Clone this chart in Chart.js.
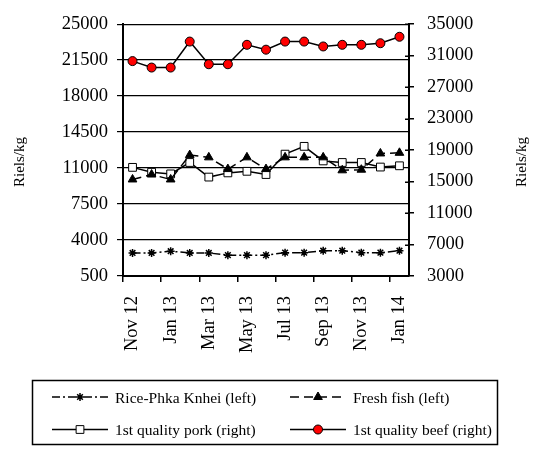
<!DOCTYPE html>
<html><head><meta charset="utf-8">
<script src="https://cdn.jsdelivr.net/npm/chart.js@4"></script>
<style>html,body{margin:0;padding:0;background:#fff}</style>
</head><body>
<canvas id="c" width="534" height="458" style="display:block"></canvas>
<script>
const months = ['Nov 12','Dec 12','Jan 13','Feb 13','Mar 13','Apr 13','May 13','Jun 13','Jul 13','Aug 13','Sep 13','Oct 13','Nov 13','Dec 13','Jan 14'];
const rice = [2740,2740,2910,2740,2740,2530,2530,2530,2770,2770,2960,2960,2770,2770,2960];
const fish = [9890,10370,9890,12260,12040,10900,12040,10900,12040,12040,12040,10780,10840,12420,12480];
const pork = [16800,16180,15970,17420,15565,16100,16300,15890,18480,19470,17620,17420,17420,16840,17000];
const beef = [30300,29480,29480,32780,29900,29900,32370,31750,32780,32780,32160,32370,32370,32570,33390];
const leftTicks = [500,4000,7500,11000,14500,18000,21500,25000];
const rightTicks = [3000,7000,11000,15000,19000,23000,27000,31000,35000];
const seriesNames = ['Rice-Phka Knhei (left)','Fresh fish (left)','1st quality pork (right)','1st quality beef (right)'];
const axisTitle = 'Riels/kg';

const FONT = '"Liberation Serif", "Times New Roman", serif';

const extras = {
  id: 'extras',
  afterDraw(chart) {
    const ctx = chart.ctx;
    ctx.save();
    ctx.fillStyle = '#000';
    ctx.font = '15px ' + FONT;
    ctx.textAlign = 'center';
    ctx.textBaseline = 'middle';
    [[20, 162], [522, 162]].forEach(([x, y]) => {
      ctx.save(); ctx.translate(x, y); ctx.rotate(-Math.PI / 2);
      ctx.fillText(axisTitle, 0, 0); ctx.restore();
    });
    // right axis ticks crossing inward
    const y1 = chart.scales.y1;
    ctx.strokeStyle = '#000';
    ctx.lineWidth = 1.5;
    y1.ticks.forEach(t => {
      const py = Math.round(y1.getPixelForValue(t.value)) + 0.25;
      ctx.beginPath(); ctx.moveTo(y1.left - 4, py); ctx.lineTo(y1.left, py); ctx.stroke();
    });
    // legend box
    ctx.lineWidth = 1.5;
    ctx.strokeRect(32.5, 380.5, 465, 64);
    const pos = [[52, 397], [290, 397], [52, 429.5], [290, 429.5]];
    chart.data.datasets.forEach((ds, i) => {
      const [x0, y] = pos[i];
      ctx.save();
      ctx.strokeStyle = '#000';
      ctx.lineWidth = ds.borderWidth;
      ctx.setLineDash(ds.borderDash || []);
      ctx.beginPath(); ctx.moveTo(x0, y); ctx.lineTo(x0 + 56, y); ctx.stroke();
      ctx.setLineDash([]);
      ctx.fillStyle = ds.pointBackgroundColor;
      ctx.strokeStyle = ds.pointBorderColor;
      ctx.lineWidth = ds.pointBorderWidth;
      Chart.helpers.drawPoint(ctx, {pointStyle: ds.pointStyle, radius: ds.pointRadius, rotation: 0, borderWidth: ds.pointBorderWidth}, x0 + 28, y);
      ctx.restore();
      ctx.fillStyle = '#000';
      ctx.font = '15.5px ' + FONT;
      ctx.textAlign = 'left';
      ctx.fillText(ds.label, x0 + 63, y + 1.5);
    });
    ctx.restore();
  }
};

new Chart(document.getElementById('c'), {
  type: 'line',
  data: {
    labels: months,
    datasets: [
      {label: seriesNames[0], data: rice, yAxisID: 'y', borderColor: '#000', borderWidth: 1.5, borderDash: [8,3,2,3],
       pointStyle: 'star', pointRadius: 4, pointBackgroundColor: '#000', pointBorderColor: '#000', pointBorderWidth: 1.5, tension: 0},
      {label: seriesNames[1], data: fish, yAxisID: 'y', borderColor: '#000', borderWidth: 1.5, borderDash: [9,5],
       pointStyle: 'triangle', pointRadius: 5, pointBackgroundColor: '#000', pointBorderColor: '#000', pointBorderWidth: 1, tension: 0},
      {label: seriesNames[2], data: pork, yAxisID: 'y1', borderColor: '#000', borderWidth: 1.5,
       pointStyle: 'rect', pointRadius: 5.5, pointBackgroundColor: '#fff', pointBorderColor: '#000', pointBorderWidth: 1, tension: 0},
      {label: seriesNames[3], data: beef, yAxisID: 'y1', borderColor: '#000', borderWidth: 1.5,
       pointStyle: 'circle', pointRadius: 4.5, pointBackgroundColor: '#ff0000', pointBorderColor: '#000', pointBorderWidth: 1, tension: 0}
    ]
  },
  options: {
    responsive: false,
    animation: false,
    devicePixelRatio: 1,
    layout: {padding: {top: 17, left: 0, right: 0, bottom: 0}},
    plugins: {legend: {display: false}, tooltip: {enabled: false}},
    scales: {
      x: {
        type: 'category', offset: true,
        grid: {offset: true, drawOnChartArea: false, drawTicks: true, tickLength: 6, lineWidth: 1.5,
               color: c => (c.index % 2 === 0 ? '#000' : 'rgba(0,0,0,0)'),
               tickColor: c => (c.index % 2 === 0 ? '#000' : 'rgba(0,0,0,0)')},
        border: {display: true, color: '#000', width: 2},
        ticks: {autoSkip: false, minRotation: 90, maxRotation: 90, padding: 14, color: '#000',
                font: {family: FONT, size: 18.5},
                callback: function(v, i) { return i % 2 === 0 ? this.getLabelForValue(v) : ''; }},
        afterFit: s => { s.height = 182; }
      },
      y: {
        position: 'left', min: leftTicks[0], max: leftTicks[leftTicks.length - 1],
        afterBuildTicks: s => { s.ticks = leftTicks.map(v => ({value: v})); },
        grid: {color: '#000', lineWidth: 1.2, drawTicks: true, tickLength: 6},
        border: {display: true, color: '#000', width: 2},
        ticks: {padding: 9, color: '#000', font: {family: FONT, size: 18.5}, callback: v => String(v)},
        afterFit: s => { s.width = 123; }
      },
      y1: {
        position: 'right', min: rightTicks[0], max: rightTicks[rightTicks.length - 1],
        afterBuildTicks: s => { s.ticks = rightTicks.map(v => ({value: v})); },
        grid: {drawOnChartArea: false, color: '#000', lineWidth: 1.5, drawTicks: true, tickLength: 5},
        border: {display: true, color: '#000', width: 2},
        ticks: {padding: 13, color: '#000', font: {family: FONT, size: 18.5}, callback: v => String(v)},
        afterFit: s => { s.width = 125; }
      }
    }
  },
  plugins: [extras]
});
</script>
</body></html>
